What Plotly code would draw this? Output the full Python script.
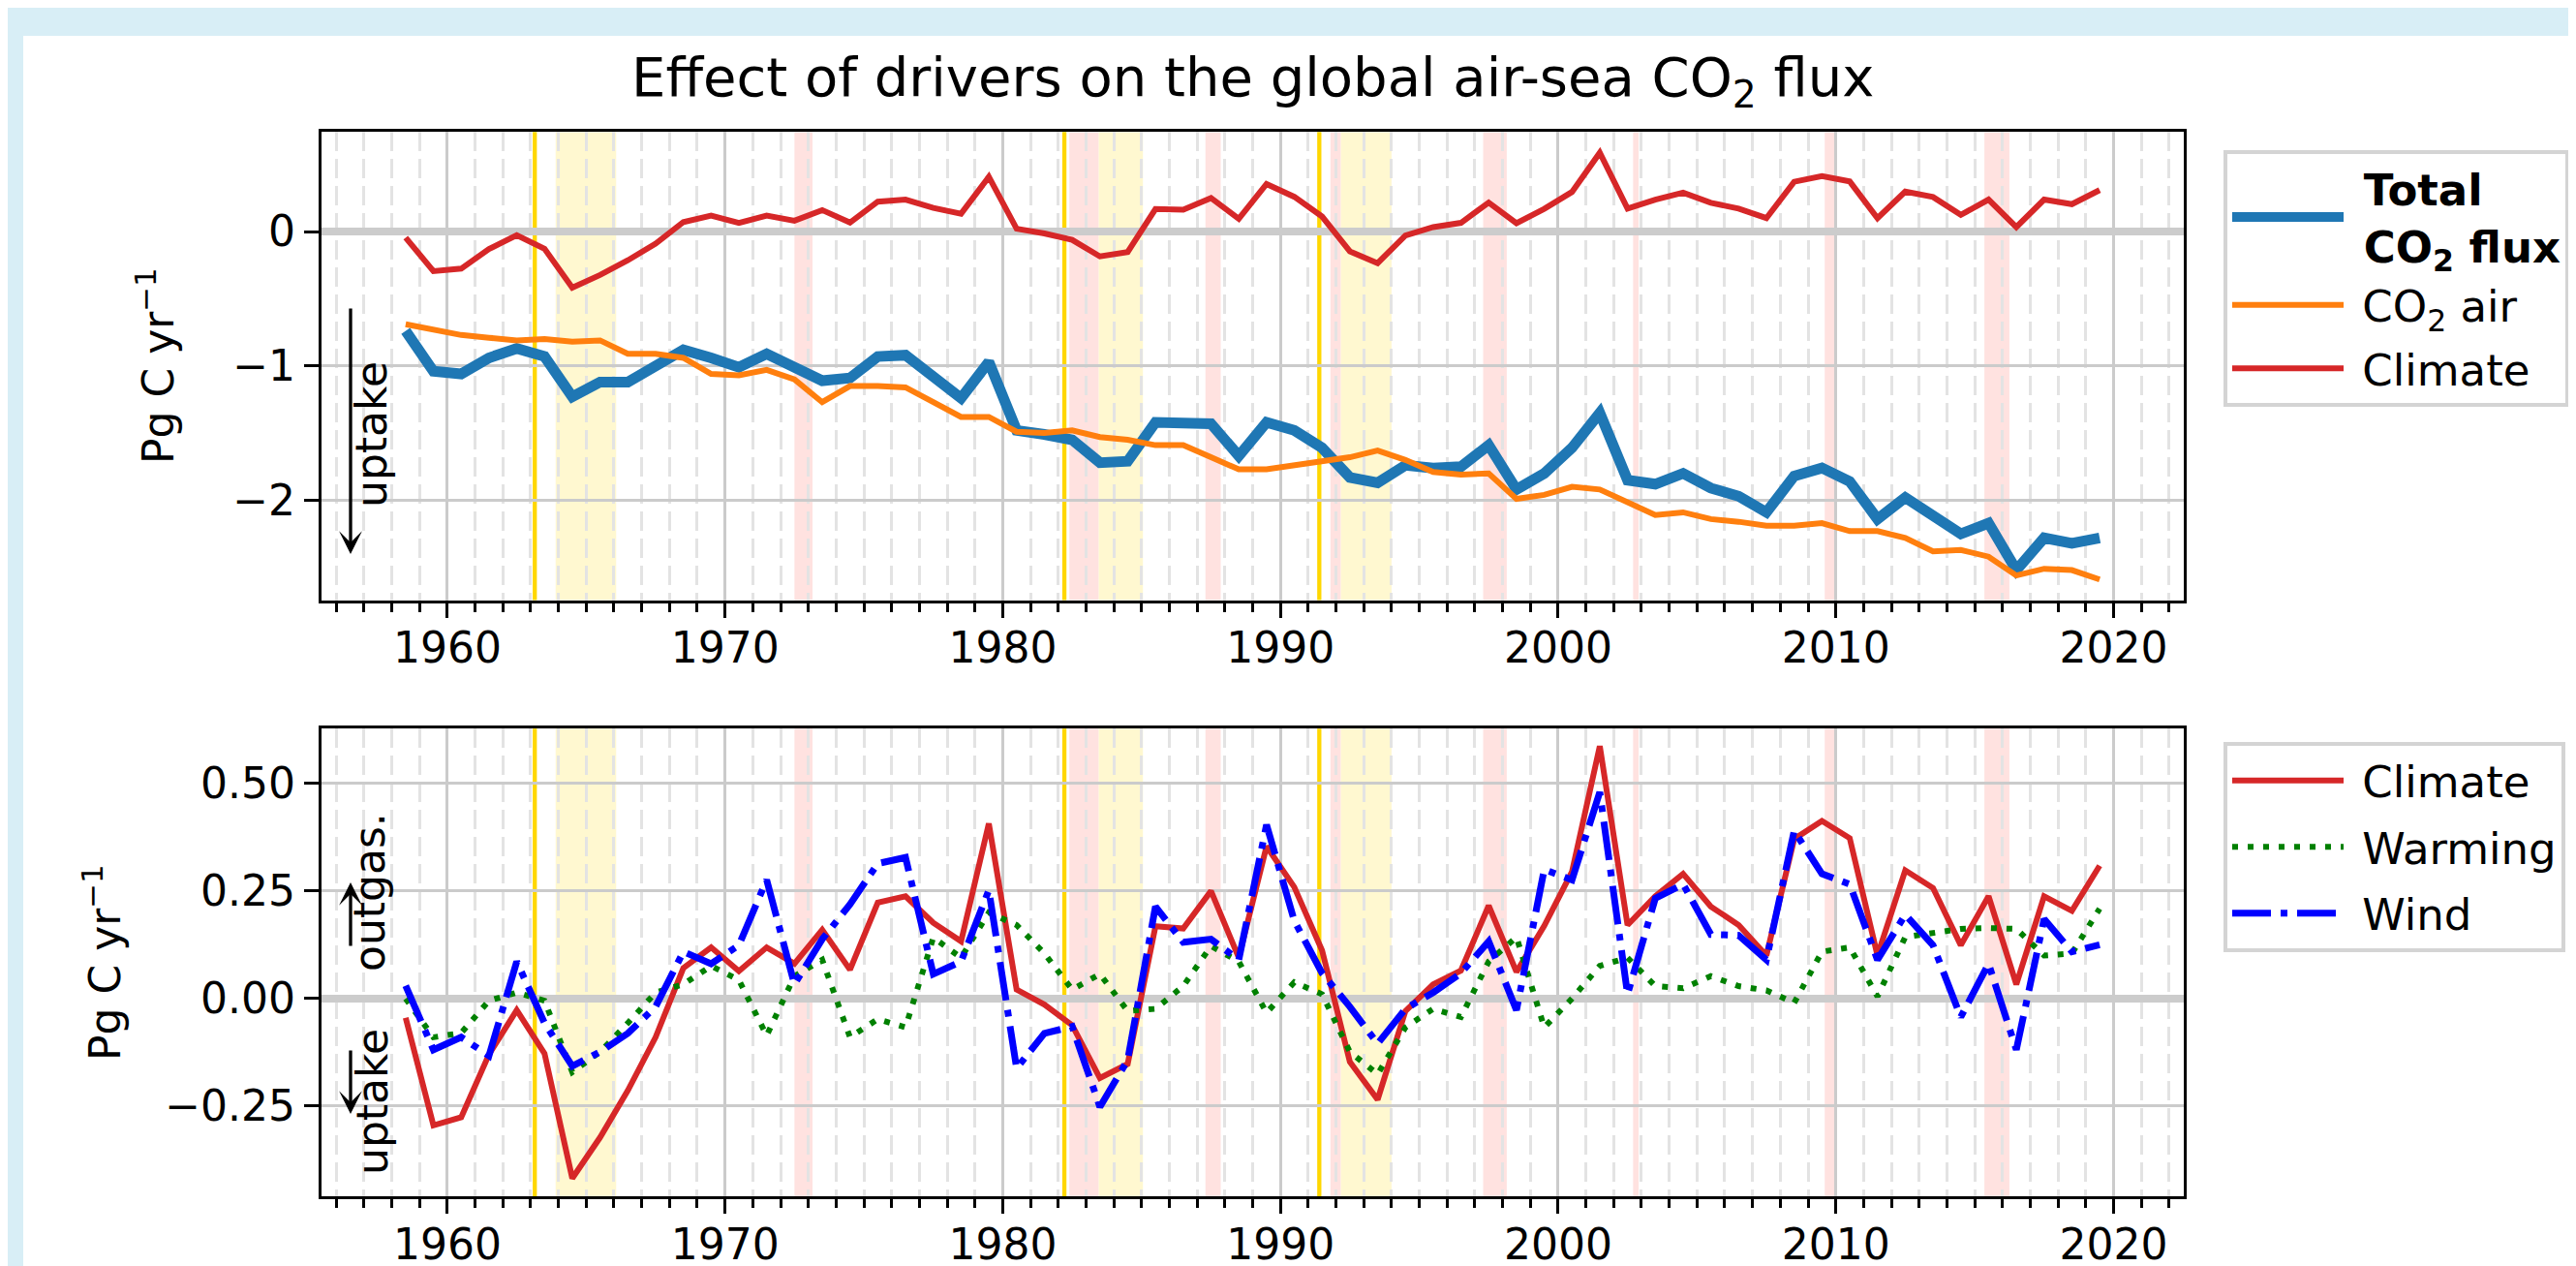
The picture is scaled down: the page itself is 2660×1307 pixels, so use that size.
import plotly.graph_objects as go

W, H = 2660, 1307

# ---------------- data ----------------
years = [y + 0.5 for y in range(1958, 2020)]

total_flux = [-0.74, -1.04, -1.06, -0.94, -0.87, -0.93, -1.23, -1.12, -1.12, -1.00,
              -0.88, -0.94, -1.01, -0.91, -1.00, -1.11, -1.09, -0.93, -0.92, -1.09,
              -1.24, -0.97, -1.48, -1.51, -1.55, -1.72, -1.71, -1.42, -1.43, -1.43,
              -1.67, -1.42, -1.48, -1.61, -1.83, -1.87, -1.74, -1.76, -1.75, -1.59,
              -1.92, -1.80, -1.61, -1.35, -1.85, -1.88, -1.80, -1.91, -1.97, -2.09,
              -1.82, -1.76, -1.86, -2.14, -1.98, -2.12, -2.25, -2.17, -2.52, -2.28,
              -2.32, -2.28]

co2_air = [-0.69, -0.73, -0.77, -0.79, -0.81, -0.80, -0.82, -0.81, -0.91, -0.91,
           -0.94, -1.06, -1.07, -1.03, -1.10, -1.27, -1.15, -1.15, -1.16, -1.27,
           -1.38, -1.38, -1.49, -1.50, -1.48, -1.53, -1.55, -1.59, -1.59, -1.68,
           -1.77, -1.77, -1.74, -1.72, -1.68, -1.63, -1.70, -1.79, -1.81, -1.80,
           -1.99, -1.96, -1.90, -1.92, -2.02, -2.11, -2.09, -2.14, -2.16, -2.19,
           -2.19, -2.17, -2.23, -2.23, -2.28, -2.38, -2.37, -2.42, -2.56, -2.51,
           -2.52, -2.59]

climate = [-0.045, -0.295, -0.276, -0.13, -0.027, -0.128, -0.418, -0.323, -0.214, -0.09,
           0.071, 0.119, 0.064, 0.119, 0.081, 0.16, 0.067, 0.223, 0.238, 0.176,
           0.133, 0.407, 0.021, -0.014, -0.062, -0.185, -0.152, 0.168, 0.163, 0.25,
           0.095, 0.354, 0.259, 0.112, -0.147, -0.235, -0.029, 0.033, 0.065, 0.216,
           0.062, 0.169, 0.295, 0.587, 0.171, 0.238, 0.29, 0.214, 0.171, 0.10,
           0.371, 0.413, 0.373, 0.10, 0.298, 0.257, 0.124, 0.238, 0.033, 0.238,
           0.204, 0.309]

warming = [0.0, -0.09, -0.08, -0.005, 0.014, -0.005, -0.171, -0.124, -0.057, 0.014,
           0.033, 0.076, 0.043, -0.086, 0.052, 0.09, -0.09, -0.048, -0.067, 0.142,
           0.095, 0.20, 0.171, 0.105, 0.021, 0.057, -0.029, -0.024, 0.029, 0.122,
           0.086, -0.033, 0.038, 0.01, -0.124, -0.176, -0.067, -0.024, -0.043, 0.086,
           0.143, -0.067, 0.0, 0.076, 0.095, 0.029, 0.024, 0.052, 0.029, 0.019,
           -0.01, 0.109, 0.119, 0.005, 0.143, 0.152, 0.162, 0.164, 0.162, 0.10,
           0.105, 0.209]

wind = [0.03, -0.119, -0.09, -0.133, 0.086, -0.057, -0.157, -0.124, -0.081, -0.019,
        0.109, 0.081, 0.124, 0.276, 0.033, 0.138, 0.219, 0.314, 0.328, 0.057,
        0.086, 0.252, -0.162, -0.081, -0.065, -0.252, -0.143, 0.214, 0.131, 0.138,
        0.09, 0.404, 0.181, 0.059, -0.019, -0.105, -0.024, 0.014, 0.059, 0.133,
        -0.027, 0.30, 0.276, 0.48, 0.01, 0.233, 0.266, 0.149, 0.147, 0.09,
        0.39, 0.29, 0.266, 0.09, 0.195, 0.124, -0.043, 0.081, -0.119, 0.185,
        0.109, 0.125]

# event markers
eruption_years = [1963.15, 1982.22, 1991.4]
aerosol_periods = [(1963.9, 1966.08), (1983.45, 1985.05), (1992.17, 1994.0)]
elnino_periods = [(1972.5, 1973.15), (1982.4, 1983.45), (1987.3, 1987.85),
                  (1991.8, 1992.17), (1997.3, 1998.15), (2002.7, 2002.9),
                  (2009.6, 2010.0), (2015.35, 2016.25)]

top_ticks = [-2, -1, 0]
bot_ticks = [-0.25, 0.0, 0.25, 0.5]
x_ticks = [1960, 1970, 1980, 1990, 2000, 2010, 2020]

# ---------------- styling helpers ----------------
FONT = "DejaVu Sans"
FS = 44
LFS = 45
BLUE_BG = "#d8eef6"
NB = "\u00a0"


def px_x(p):
    return p / W


def px_y(p):
    return 1 - p / H


fig = go.Figure()

# top panel traces
fig.add_trace(go.Scatter(x=years, y=total_flux, mode="lines",
                         name="<b>" + NB + "Total<br>" + NB + "CO<sub>2</sub> flux</b>",
                         line=dict(color="#1f77b4", width=11), xaxis="x", yaxis="y",
                         legend="legend", legendgroup="a"))
fig.add_trace(go.Scatter(x=years, y=co2_air, mode="lines", name=NB + "CO<sub>2</sub> air",
                         line=dict(color="#ff7f0e", width=6), xaxis="x", yaxis="y",
                         legend="legend", legendgroup="a"))
fig.add_trace(go.Scatter(x=years, y=climate, mode="lines", name=NB + "Climate",
                         line=dict(color="#d62728", width=6), xaxis="x", yaxis="y",
                         legend="legend", legendgroup="c"))

# bottom panel traces
fig.add_trace(go.Scatter(x=years, y=climate, mode="lines", name=NB + "Climate",
                         line=dict(color="#d62728", width=6), xaxis="x2", yaxis="y2",
                         legend="legend2", legendgroup="d"))
fig.add_trace(go.Scatter(x=years, y=warming, mode="lines", name=NB + "Warming",
                         line=dict(color="#008000", width=6, dash="6px,10px"), xaxis="x2", yaxis="y2",
                         legend="legend2", legendgroup="e"))
fig.add_trace(go.Scatter(x=years, y=wind, mode="lines", name=NB + "Wind",
                         line=dict(color="#0000ff", width=7, dash="40px,10px,7px,10px"), xaxis="x2", yaxis="y2",
                         legend="legend2", legendgroup="f"))

shapes = []
# white panel over the light-blue page
shapes.append(dict(type="rect", xref="paper", yref="paper", x0=px_x(16), x1=1.0,
                   y0=0.0, y1=px_y(29), fillcolor="white", line=dict(width=0), layer="below"))

for xr, yr in [("x", "y"), ("x2", "y2")]:
    for a, b in aerosol_periods:
        shapes.append(dict(type="rect", xref=xr, yref=yr + " domain", x0=a, x1=b, y0=0, y1=1,
                           fillcolor="#fff8d0", line=dict(width=0), layer="below"))
    for a, b in elnino_periods:
        shapes.append(dict(type="rect", xref=xr, yref=yr + " domain", x0=a, x1=b, y0=0, y1=1,
                           fillcolor="#ffe2e0", line=dict(width=0), layer="below"))
    for e in eruption_years:
        shapes.append(dict(type="line", xref=xr, yref=yr + " domain", x0=e, x1=e, y0=0, y1=1,
                           line=dict(color="#ffd700", width=4.3), layer="below"))

xaxis_common = dict(
    range=[1955.47, 2022.53], tickvals=x_ticks, ticks="outside", ticklen=15, tickwidth=3.3,
    tickcolor="black", showline=True, linecolor="black", linewidth=3.3, mirror=True,
    showgrid=True, gridcolor="#cbcbcb", gridwidth=3.3, zeroline=False,
    tickfont=dict(family=FONT, size=FS, color="black"), ticklabelstandoff=-6,
    minor=dict(dtick=1, tick0=1960, ticks="outside", ticklen=9, tickwidth=2.5, tickcolor="black",
               showgrid=True, gridcolor="#e3e3e3", gridwidth=3, griddash="20px,8px"),
)
yaxis_common = dict(
    ticks="outside", ticklen=15, tickwidth=3.3, tickcolor="black",
    showline=True, linecolor="black", linewidth=3.3, mirror=True,
    showgrid=True, gridcolor="#cbcbcb", gridwidth=3.3,
    zeroline=True, zerolinecolor="#cccccc", zerolinewidth=8,
    tickfont=dict(family=FONT, size=FS, color="black"),
)

dom_x = [px_x(324), px_x(2247)]

legend_common = dict(xanchor="left", yanchor="top", bgcolor="white", bordercolor="#d4d4d4",
                     borderwidth=4, font=dict(family=FONT, size=LFS, color="black"),
                     itemwidth=115, traceorder="grouped")

fig.update_layout(
    width=W, height=H,
    margin=dict(l=0, r=0, t=0, b=0),
    paper_bgcolor=BLUE_BG, plot_bgcolor="white",
    font=dict(family=FONT, size=FS, color="black"),
    xaxis=dict(domain=dom_x, anchor="y", **xaxis_common),
    yaxis=dict(domain=[px_y(611.5), px_y(128.3)], anchor="x", range=[-2.743, 0.741],
               tickvals=top_ticks, **yaxis_common),
    xaxis2=dict(domain=dom_x, anchor="y2", **xaxis_common),
    yaxis2=dict(domain=[px_y(1227.3), px_y(744.3)], anchor="x2", range=[-0.4604, 0.6275],
                tickvals=bot_ticks, tickformat=".2f", **yaxis_common),
    shapes=shapes,
    showlegend=True,
    legend=dict(x=px_x(2288), y=px_y(147), tracegroupgap=4, **legend_common),
    legend2=dict(x=px_x(2288), y=px_y(758), tracegroupgap=7, **legend_common),
)

ann = []
ann.append(dict(text="Effect of drivers on the global air-sea CO<sub>2</sub> flux",
                x=(dom_x[0] + dom_x[1]) / 2, y=px_y(75), xref="paper", yref="paper",
                xanchor="center", yanchor="middle", showarrow=False,
                font=dict(family=FONT, size=56, color="black")))
ann.append(dict(text="Pg C yr<sup>−1</sup>", x=px_x(152), y=px_y(370), xref="paper", yref="paper",
                xanchor="center", yanchor="middle", textangle=-90, showarrow=False,
                font=dict(family=FONT, size=FS, color="black")))
ann.append(dict(text="Pg C yr<sup>−1</sup>", x=px_x(97), y=px_y(986), xref="paper", yref="paper",
                xanchor="center", yanchor="middle", textangle=-90, showarrow=False,
                font=dict(family=FONT, size=FS, color="black")))
# uptake / outgassing labels
ann.append(dict(text="uptake", x=px_x(376), y=px_y(441), xref="paper", yref="paper",
                xanchor="center", yanchor="middle", textangle=-90, showarrow=False,
                font=dict(family=FONT, size=FS, color="black")))
ann.append(dict(text="", x=px_x(354), y=px_y(564), xref="paper", yref="paper",
                showarrow=True, ax=0, ay=-255, arrowhead=3, arrowsize=1.2, arrowwidth=3.3,
                arrowcolor="black"))
ann.append(dict(text="outgas.", x=px_x(373), y=px_y(913), xref="paper", yref="paper",
                xanchor="center", yanchor="middle", textangle=-90, showarrow=False,
                font=dict(family=FONT, size=FS, color="black")))
ann.append(dict(text="", x=px_x(354), y=px_y(903), xref="paper", yref="paper",
                showarrow=True, ax=0, ay=67, arrowhead=3, arrowsize=1.2, arrowwidth=3.3,
                arrowcolor="black"))
ann.append(dict(text="uptake", x=px_x(376), y=px_y(1130), xref="paper", yref="paper",
                xanchor="center", yanchor="middle", textangle=-90, showarrow=False,
                font=dict(family=FONT, size=FS, color="black")))
ann.append(dict(text="", x=px_x(354), y=px_y(1142), xref="paper", yref="paper",
                showarrow=True, ax=0, ay=-67, arrowhead=3, arrowsize=1.2, arrowwidth=3.3,
                arrowcolor="black"))
fig.update_layout(annotations=ann)

fig.write_html("out.html")
